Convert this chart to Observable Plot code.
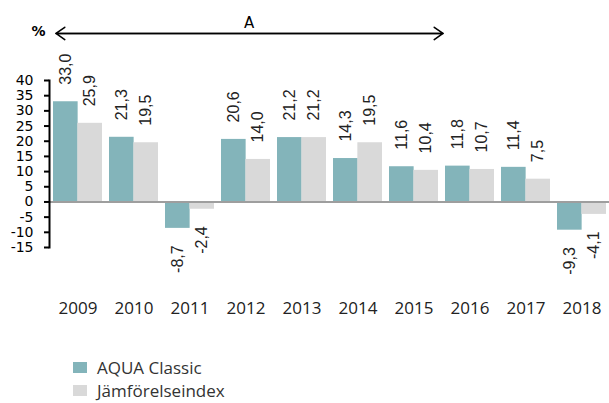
<!DOCTYPE html>
<html>
<head>
<meta charset="utf-8">
<script src="https://cdn.jsdelivr.net/npm/d3@7"></script>
<script src="https://cdn.jsdelivr.net/npm/@observablehq/plot@0.6"></script>
<style>
  html, body { margin: 0; padding: 0; background: #fff; overflow: hidden; }
  #legend { margin-top: 16px; padding-left: 73px; font-family: "Open Sans", sans-serif; font-size: 17px; color: #333; }
  .item { display: flex; align-items: center; height: 23px; }
  .sw { width: 14px; height: 11px; margin-right: 10px; }
</style>
</head>
<body>
<div id="chart"></div>
<div id="legend"></div>
<script>
const years = ["2009","2010","2011","2012","2013","2014","2015","2016","2017","2018"];
const aquaClassic = [33.0, 21.3, -8.7, 20.6, 21.2, 14.3, 11.6, 11.8, 11.4, -9.3];
const jamforelseindex = [25.9, 19.5, -2.4, 14.0, 21.2, 19.5, 10.4, 10.7, 7.5, -4.1];
const seriesNames = ["AQUA Classic", "Jämförelseindex"];
const seriesColors = ["#83b4ba", "#d9d9d9"];
const yTicks = [-15, -10, -5, 0, 5, 10, 15, 20, 25, 30, 35, 40];
const spans = [{from: "2009", to: "2015", label: "A"}];
const unitLabel = "%";

const W = 609, H = 340, ML = 49, MR = 0, MT = 80, MB = 93;
const padIn = 0.13, padOut = 0.065;
const step = (W - ML - MR) / (years.length - padIn + 2 * padOut);
const bw = step * (1 - padIn);

const rows = [];
years.forEach((y, i) => {
  rows.push({year: y, series: seriesNames[0], value: aquaClassic[i]});
  rows.push({year: y, series: seriesNames[1], value: jamforelseindex[i]});
});
const fmt = v => v.toFixed(1).replace(".", ",");
const arrowY = 55.5;
const labelFont = "'Liberation Sans Narrow', 'Arial Narrow', 'Liberation Sans', sans-serif";
const midYear = d => years[Math.round((years.indexOf(d.from) + years.indexOf(d.to)) / 2)];

const marks = [];
seriesNames.forEach((s, k) => {
  const data = rows.filter(d => d.series === s);
  marks.push(Plot.barY(data, {
    x: "year", y: "value", fill: seriesColors[k],
    insetLeft: k === 0 ? 0 : bw / 2, insetRight: k === 0 ? bw / 2 : 0
  }));
  const dx = k === 0 ? -bw / 4 : bw / 4;
  marks.push(Plot.text(data.filter(d => d.value >= 0), {
    x: "year", y: "value", text: d => fmt(d.value), rotate: -90,
    textAnchor: "start", dx, dy: -17, fontSize: 16, fill: "#222", fontFamily: labelFont
  }));
  marks.push(Plot.text(data.filter(d => d.value < 0), {
    x: "year", y: "value", text: d => fmt(d.value), rotate: -90,
    textAnchor: "end", dx, dy: 17, fontSize: 16, fill: "#222", fontFamily: labelFont
  }));
});
marks.push(Plot.ruleY([0], {stroke: "#9e9e9e", strokeWidth: 2}));
marks.push(Plot.frame({anchor: "left", stroke: "#000", strokeWidth: 2}));
marks.push(Plot.axisY({
  ticks: yTicks, tickFormat: d => String(d), tickSize: 5, tickPadding: 11,
  fontSize: 14, fontFamily: "'DejaVu Sans', sans-serif", stroke: "#000", strokeWidth: 2,
  color: "#000", label: null
}));
marks.push(Plot.axisX({
  tickSize: 0, tickPadding: 54, fontSize: 17, fontFamily: "'Open Sans', sans-serif",
  color: "#222", label: null
}));
// double-headed span arrow
marks.push(Plot.arrow(spans, {
  x1: "to", x2: "from", y1: () => arrowY, y2: () => arrowY,
  insetStart: -29, insetEnd: -22, headLength: 10, headAngle: 70, strokeWidth: 1.6, stroke: "#000"
}));
marks.push(Plot.arrow(spans, {
  x1: "from", x2: "to", y1: () => arrowY, y2: () => arrowY,
  insetStart: -22, insetEnd: -29, headLength: 10, headAngle: 70, strokeWidth: 1.6, stroke: "#000"
}));
marks.push(Plot.text(spans, {
  x: midYear, y: () => arrowY, text: "label", dy: -10, dx: 3,
  fontSize: 15, fontFamily: "'DejaVu Sans', sans-serif", fill: "#000"
}));
marks.push(Plot.text([unitLabel], {
  frameAnchor: "top-left", text: d => d, textAnchor: "middle", dx: -11, dy: -54,
  fontSize: 14, fontWeight: "bold", fontFamily: "'DejaVu Sans', sans-serif", fill: "#000"
}));

const chart = Plot.plot({
  width: W, height: H,
  marginLeft: ML, marginRight: MR, marginTop: MT, marginBottom: MB,
  x: {type: "band", domain: years, paddingInner: padIn, paddingOuter: padOut, axis: null},
  y: {domain: [-15, 40], axis: null},
  style: {background: "#fff", overflow: "visible"},
  marks
});
document.getElementById("chart").appendChild(chart);

const legend = document.getElementById("legend");
seriesNames.forEach((s, k) => {
  const it = document.createElement("div");
  it.className = "item";
  it.innerHTML = `<span class="sw" style="background:${seriesColors[k]}"></span><span>${s}</span>`;
  legend.appendChild(it);
});
</script>
</body>
</html>
